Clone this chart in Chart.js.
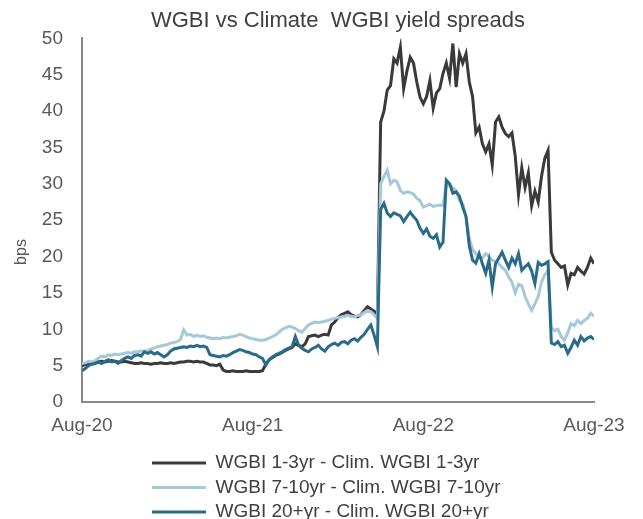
<!DOCTYPE html>
<html>
<head>
<meta charset="utf-8">
<script src="https://cdn.jsdelivr.net/npm/chart.js@4.4.1/dist/chart.umd.min.js"></script>
<style>
html,body{margin:0;padding:0;background:#fff;overflow:hidden}
#wrap{width:643px;height:519px;position:relative}
</style>
</head>
<body>
<div id="wrap"><canvas id="c"></canvas></div>
<script>
// ---- data (weekly observations, week 0 = Aug-20) ----
const chartTitle = 'WGBI vs Climate  WGBI yield spreads';
const yTitle = 'bps';
const tickLabels = ['Aug-20', 'Aug-21', 'Aug-22', 'Aug-23'];
const weeksPerTick = 52;
const seriesNames = [
  'WGBI 1-3yr - Clim. WGBI 1-3yr',
  'WGBI 7-10yr - Clim. WGBI 7-10yr',
  'WGBI 20+yr - Clim. WGBI 20+yr'
];
const spread1to3 = [
  5.0, 5.1, 5.3, 5.4, 5.5, 5.5, 5.6, 5.5, 5.6, 5.7,
  5.6, 5.5, 5.5, 5.6, 5.5, 5.4, 5.3, 5.3, 5.4, 5.3,
  5.3, 5.2, 5.3, 5.3, 5.4, 5.3, 5.3, 5.4, 5.3, 5.4,
  5.5, 5.5, 5.6, 5.6, 5.5, 5.6, 5.5, 5.5, 5.3, 5.1,
  5.1, 5.0, 5.2, 4.4, 4.2, 4.2, 4.3, 4.2, 4.2, 4.2,
  4.3, 4.2, 4.2, 4.2, 4.2, 4.3, 5.2, 5.8, 6.1, 6.4,
  6.6, 6.8, 7.1, 7.3, 7.5, 8.0, 7.8, 7.6, 8.0, 9.0,
  9.1, 9.2, 9.0, 9.2, 9.3, 9.2, 10.6, 11.0, 11.6, 12.0,
  12.2, 12.4, 12.0, 11.8, 11.7, 12.0, 12.6, 13.1, 12.8, 12.5,
  12.0, 38.5, 40.0, 42.9, 43.5, 47.2, 46.6, 48.8, 43.1, 45.5,
  47.4, 46.6, 44.0, 41.9, 41.0, 42.0, 44.2, 40.4, 42.5, 43.1,
  45.2, 46.6, 44.5, 49.3, 43.3, 47.9, 46.6, 47.9, 44.0, 42.0,
  37.0, 37.8, 35.5, 34.4, 35.5, 32.6, 38.5, 39.2, 37.8, 36.9,
  36.5, 37.0, 33.8, 28.5, 32.2, 29.5, 31.5, 27.0, 29.0, 27.5,
  31.0, 33.5, 34.6, 20.6, 19.5, 19.0, 18.5, 18.7, 16.1, 17.7,
  17.5, 18.5, 18.0, 17.6, 18.5, 19.8, 19.0
];
const spread7to10 = [
  5.3, 5.4, 5.6, 5.5, 5.7, 6.0, 6.3, 6.2, 6.5, 6.4,
  6.6, 6.5, 6.6, 6.7, 6.8, 6.7, 6.9, 6.9, 7.0, 7.0,
  7.1, 7.3, 7.4, 7.6, 7.7, 7.8, 7.9, 8.1, 8.2, 8.3,
  8.6, 9.9, 9.2, 9.3, 9.0, 9.2, 9.0, 9.1, 8.9, 8.8,
  8.7, 8.8, 8.7, 8.9, 8.8, 8.9, 9.0, 9.1, 9.3, 9.2,
  9.0, 8.8, 8.7, 8.6, 8.5, 8.5, 8.6, 8.8, 9.0, 9.2,
  9.6, 10.0, 10.2, 10.4, 10.3, 10.1, 9.8, 9.6, 10.1, 10.6,
  10.8, 11.0, 10.9, 11.0, 11.1, 11.2, 11.4, 11.5, 11.6, 11.7,
  11.8, 11.9, 11.8, 11.7, 11.9, 12.0, 12.3, 12.6, 12.4, 12.0,
  11.5, 30.0, 31.0, 31.9, 30.0, 30.5, 30.3, 29.1, 28.7, 28.9,
  28.8, 28.6, 28.0, 27.7, 26.8, 27.0, 27.2, 26.9, 27.0, 27.1,
  27.0, 30.0, 29.8, 29.5, 29.0, 27.7, 27.3, 25.5, 22.5, 21.0,
  20.4, 20.0, 19.8, 20.4, 20.0, 19.5, 19.3, 19.0, 18.5, 18.1,
  17.2, 16.5, 15.0, 16.2, 16.0, 14.5, 13.5, 12.6, 13.5, 14.5,
  16.5, 17.5, 18.1, 10.3, 9.8, 10.0, 9.0, 8.5, 9.5, 10.8,
  10.5, 11.2, 10.8, 11.2, 11.5, 12.2, 11.8
];
const spread20plus = [
  4.3, 4.6, 5.0, 5.2, 5.3, 5.5, 5.3, 5.6, 5.8, 5.5,
  5.6, 5.3, 5.7, 6.0, 6.2, 6.0, 6.4, 6.5, 6.3, 6.9,
  6.7, 6.9, 6.6, 6.8, 6.5, 6.2, 6.5, 7.0, 7.3, 7.4,
  7.5, 7.6, 7.5, 7.7, 7.6, 7.8, 7.6, 7.7, 7.5, 6.5,
  6.4, 6.3, 6.2, 6.4, 6.3, 6.5, 6.8, 7.0, 7.2, 7.1,
  6.9, 6.8, 6.6, 6.5, 6.2, 6.0, 5.1, 5.8, 6.2, 6.5,
  6.7, 6.9, 7.2, 7.4, 7.6, 9.0, 7.8, 7.4, 7.1, 6.9,
  7.3, 7.5, 7.8, 7.3, 7.0, 7.6, 7.9, 8.1, 7.8, 8.2,
  8.3, 8.0, 8.5, 8.7, 8.4, 8.9, 9.3, 10.0, 10.6, 9.2,
  7.6, 26.5, 27.3, 26.0, 25.5, 26.0, 25.8, 25.6, 24.8, 25.5,
  26.1, 25.5, 25.0, 23.9, 23.2, 23.8, 22.8, 22.5, 23.0, 21.3,
  22.0, 30.5, 30.0, 28.7, 28.9, 28.3, 26.8, 25.5, 21.5, 19.5,
  19.1, 20.4, 19.0, 17.7, 19.5, 15.8, 19.0, 19.8, 20.6, 19.5,
  18.5, 19.8, 19.0, 20.4, 18.1, 18.6, 19.0, 18.0, 16.3, 19.2,
  18.8, 19.0, 19.3, 8.1, 7.9, 8.3, 7.6, 7.8, 6.7, 7.5,
  8.5, 7.8, 9.0, 8.4, 8.8, 9.0, 8.6
];

// ---- chart ----
const FONT = "'Liberation Sans', Arial, sans-serif";
const toPts = arr => arr.map((v, i) => ({ x: i, y: v }));

const yTitlePlugin = {
  id: 'yTitle',
  afterDraw(chart) {
    const ctx = chart.ctx, a = chart.chartArea;
    ctx.save();
    ctx.translate(21.5, a.bottom - 150);
    ctx.rotate(-Math.PI / 2);
    ctx.font = '16px ' + FONT;
    ctx.fillStyle = '#595959';
    ctx.textAlign = 'center';
    ctx.textBaseline = 'middle';
    ctx.fillText(yTitle, 0, 0);
    ctx.restore();
  }
};
const legendAlignPlugin = {
  id: 'legendAlign',
  afterLayout(chart) {
    if (chart.legend) chart.legend.left = 146.5;
  }
};

const lineDs = (label, data, color, order) => ({
  label, data: toPts(data), borderColor: color, backgroundColor: color,
  borderWidth: 3, pointRadius: 0, pointHoverRadius: 0, tension: 0, order
});

new Chart(document.getElementById('c'), {
  type: 'line',
  data: {
    datasets: [
      lineDs(seriesNames[0], spread1to3, '#3a3a3a', 3),
      lineDs(seriesNames[1], spread7to10, '#a5c8da', 2),
      lineDs(seriesNames[2], spread20plus, '#2b6b8a', 1)
    ]
  },
  options: {
    responsive: true,
    maintainAspectRatio: false,
    animation: false,
    layout: { padding: { top: 0, left: 0, right: 49, bottom: -12.5 } },
    plugins: {
      title: {
        display: true, text: chartTitle, fullSize: false, color: '#404040',
        font: { family: FONT, size: 22, weight: 'normal' },
        padding: { top: 8, bottom: 4 }
      },
      legend: {
        position: 'bottom', align: 'start',
        labels: {
          usePointStyle: true, pointStyle: 'line', pointStyleWidth: 54,
          padding: 5.5, color: '#404040',
          font: { family: FONT, size: 19 },
          sort: (a, b) => a.datasetIndex - b.datasetIndex
        }
      },
      tooltip: { enabled: false }
    },
    scales: {
      x: {
        type: 'linear', min: 0, max: 156,
        grid: { display: false, drawTicks: false },
        border: { display: true, color: '#898989', width: 2 },
        ticks: {
          stepSize: weeksPerTick, padding: 12, color: '#595959', maxRotation: 0, autoSkip: false,
          font: { family: FONT, size: 19 },
          callback: v => tickLabels[v / weeksPerTick] ?? ''
        },
        afterFit: s => { s.height = 46; }
      },
      y: {
        min: 0, max: 50,
        grid: { display: false, drawTicks: false },
        border: { display: true, color: '#898989', width: 2 },
        ticks: { stepSize: 5, padding: 19, color: '#595959', font: { family: FONT, size: 19 } },
        afterFit: s => { s.width = 82; }
      }
    }
  },
  plugins: [yTitlePlugin, legendAlignPlugin]
});
</script>
</body>
</html>
